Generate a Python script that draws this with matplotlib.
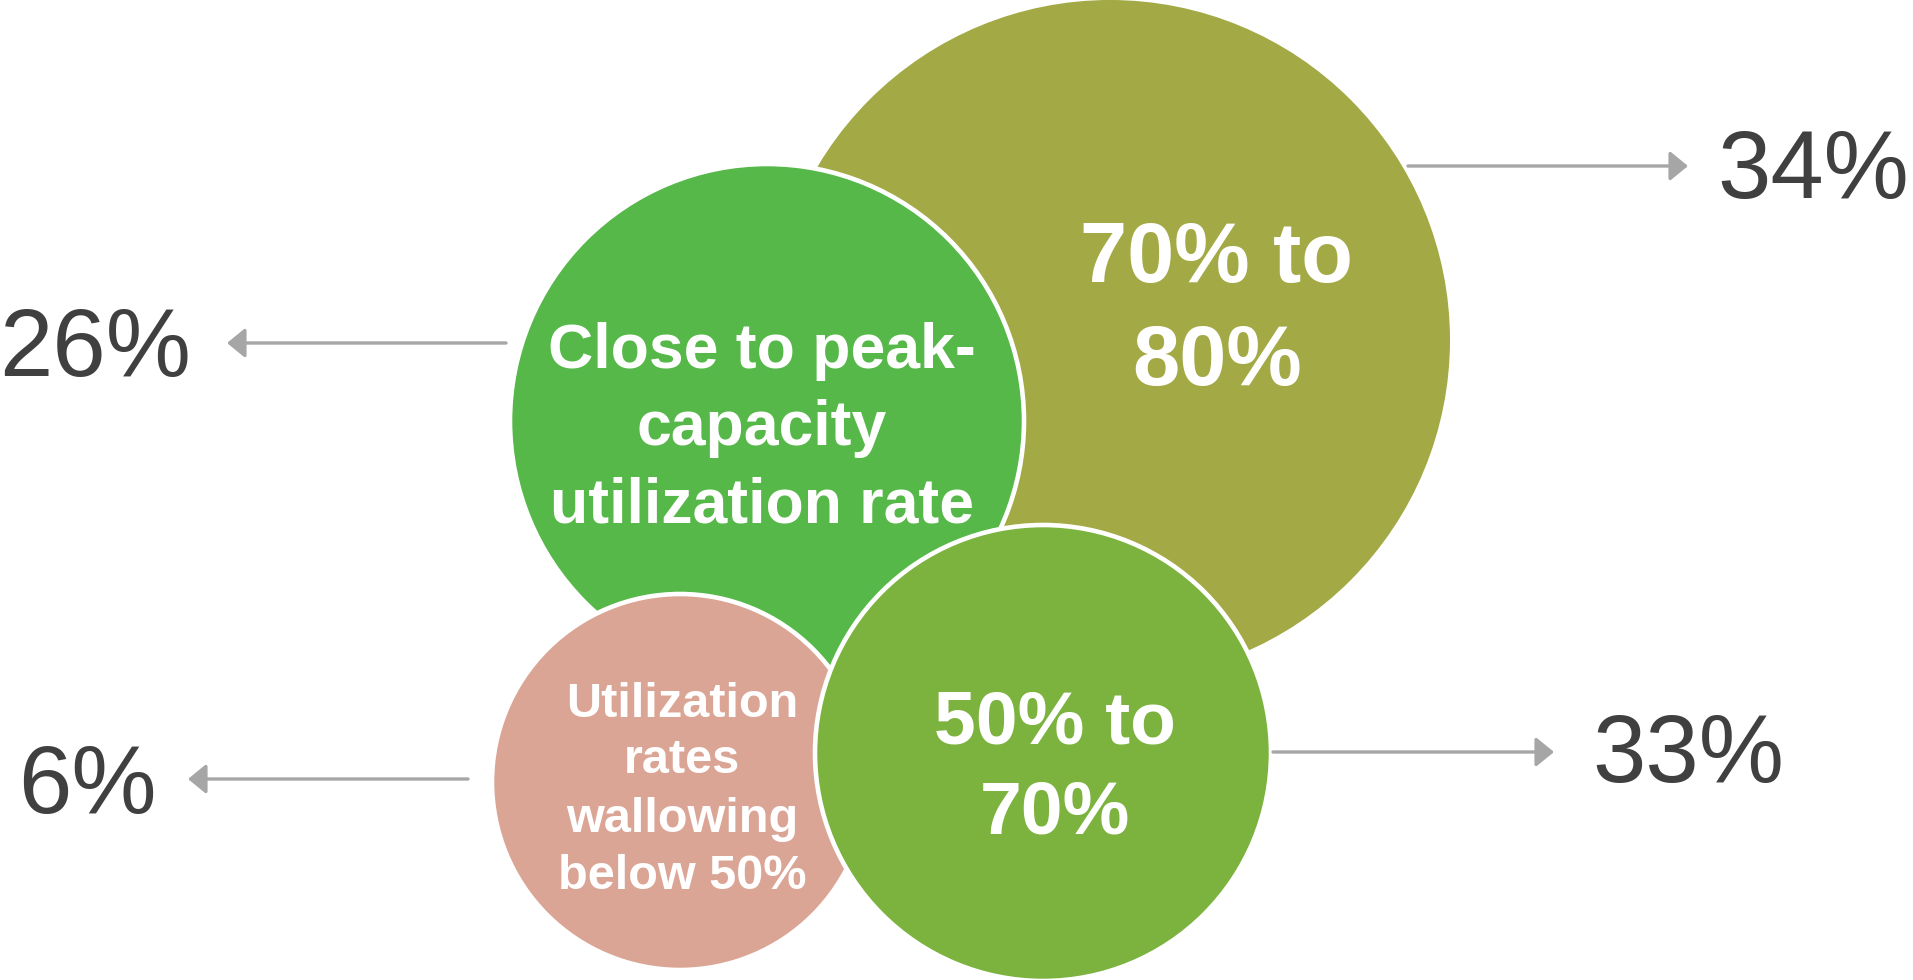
import matplotlib
matplotlib.use("Agg")
import matplotlib.pyplot as plt
from matplotlib.patches import Circle, FancyArrowPatch

# ---- data ----
categories = ["70% to 80%", "Close to peak-capacity utilization rate",
              "Utilization rates wallowing below 50%", "50% to 70%"]
shares = [34, 26, 6, 33]
bubble_lines = [["70% to", "80%"],
                ["Close to peak-", "capacity", "utilization rate"],
                ["Utilization", "rates", "wallowing", "below 50%"],
                ["50% to", "70%"]]
colors = ["#A3A945", "#57B84A", "#DBA596", "#7CB23E"]

# ---- layout (pixels in a 1913x980 canvas) ----
W, H = 1913, 980
circ_xy = [(1110, 340), (767, 421), (680, 782), (1043, 753)]
circ_r = [340, 257, 188, 228]
edge_w = [0, 3.3, 3.3, 3.3]
text_x = [1217, 762, 682, 1055]
text_base = [[282, 385], [368, 445, 522], [717, 773, 832, 889], [743, 833]]
text_size = [61, 45, 35, 54]

# arrows: (start x, end x, y), label: (x, baseline, ha)
arrow_pos = [(1408, 1688, 166), (506, 227, 343), (468, 188, 779), (1273, 1554, 752)]
label_pos = [(1717, 198, "left"), (-1, 376, "left"), (18, 813, "left"), (1592, 782, "left")]

fig = plt.figure(figsize=(W / 100, H / 100), dpi=100)
ax = fig.add_axes([0, 0, 1, 1])
ax.set_xlim(0, W)
ax.set_ylim(H, 0)
ax.set_aspect("equal")
ax.axis("off")

for i, (xy, r, c) in enumerate(zip(circ_xy, circ_r, colors)):
    ax.add_patch(Circle(xy, r, facecolor=c, edgecolor="white",
                        linewidth=edge_w[i], zorder=1 + i))
    for line, yb in zip(bubble_lines[i], text_base[i]):
        ax.text(text_x[i], yb, line, ha="center", va="baseline",
                fontsize=text_size[i], fontweight="bold", color="white",
                family=["Liberation Sans", "DejaVu Sans"], zorder=10)

for (x0, x1, y), (lx, lb, ha), s in zip(arrow_pos, label_pos, shares):
    ax.add_patch(FancyArrowPatch((x0, y), (x1, y),
                                 arrowstyle="-|>,head_length=11,head_width=9",
                                 mutation_scale=1, color="#A6A6A6",
                                 linewidth=2.4, shrinkA=0, shrinkB=0, zorder=5))
    ax.text(lx, lb, f"{s}%", ha=ha, va="baseline", fontsize=69,
            color="#404040", family=["Liberation Sans", "DejaVu Sans"], zorder=10)

fig.savefig("out.png", dpi=100, facecolor="white")
